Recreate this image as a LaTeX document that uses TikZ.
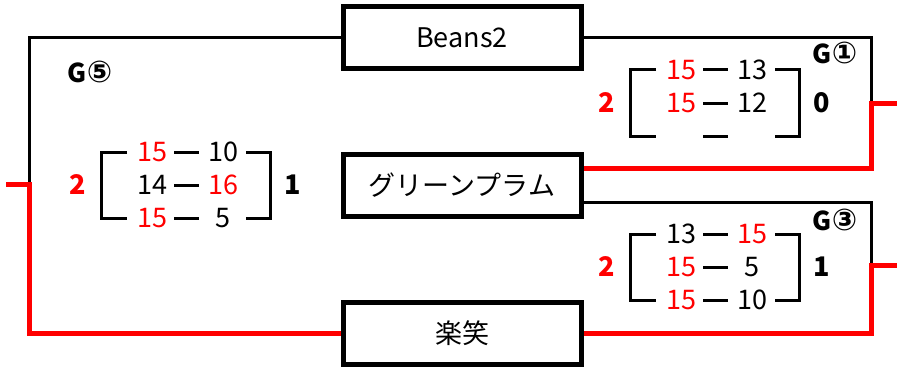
\documentclass[tikz,border=0pt]{standalone}
\usepackage{fontspec}
\setmainfont{Noto Sans CJK JP}
\newfontfamily\circfont{DejaVu Sans}
\usetikzlibrary{calc}
\usetikzlibrary{positioning}
\usepackage{xcolor}

\tikzset{
 team/.style={draw, line width=5pt, minimum width=238pt, minimum height=62pt, inner sep=0pt},
 lose/.style={black, line width=3pt},
 win/.style={red, line width=5pt},
 brk/.style={black, line width=3pt},
 gname/.style={font=\fontsize{26}{28}\selectfont\bfseries, inner sep=0pt},
 total/.style={font=\fontsize{27}{30}\selectfont\bfseries}
}
\newcommand{\circnum}[1]{{\circfont\fontsize{30}{32}\selectfont #1}}

\begin{document}
\begin{tikzpicture}[x=1pt, y=-1pt, font=\fontsize{27}{30}\selectfont]
\useasboundingbox (0,0) rectangle (897,369);
% teams
\node[team] (beans) at (462,38) {Beans2};
\node[team] (green) at (462,185) {グリーンプラム};
\node[team] (raku) at (462,333) {楽笑};
% bracket lines
\coordinate (g5) at (29,184);
\coordinate (g1) at (871,103);
\coordinate (g3) at (871,265);
\coordinate (out5) at (6,184);
\coordinate (out1) at (897,103);
\coordinate (out3) at (897,265);
\draw[lose] (beans.west) -| (g5);
\draw[win] (out5) -- (g5) |- (raku.west);
\draw[lose] (beans.east) -| (g1);
\draw[win] (out1) -- (g1) |- ([yshift=17pt]green.east);
\draw[lose] ([yshift=-17pt]green.east) -| (g3);
\draw[win] (out3) -- (g3) |- (raku.east);
% score brackets
\foreach \x/\y in {101/152, 630/70, 630/234} {
 \draw[brk] (\x+26,\y) -- (\x,\y) -- (\x,\y+66) -- (\x+26,\y+66);
 \draw[brk] (\x+145,\y) -- (\x+169,\y) -- (\x+169,\y+66) -- (\x+145,\y+66);
 \draw[brk] (\x+73,\y+33) -- (\x+98,\y+33);
 \draw[brk] (\x+73,\y+66) -- (\x+98,\y+66);
 \draw[brk] (\x+73,\y) -- (\x+98,\y);
}
\foreach \x/\y/\a/\b/\ca/\cb in {101/152/15/10/red/black, 101/185/14/16/black/red, 101/218/15/5/red/black,
  630/70/15/13/red/black, 630/103/15/12/red/black,
  630/234/13/15/black/red, 630/267/15/5/red/black, 630/300/15/10/red/black} {
 \node[text=\ca] (a\x-\y) at (\x+51,\y) {\a};
 \node[text=\cb] (b\x-\y) at (\x+122,\y) {\b};
}
% set totals
\node[total, red] (w5) at (78,185) {2};
\node[total] (l5) at (293,185) {1};
\node[total, red] (w1) at (607,103) {2};
\node[total] (l1) at (822,103) {0};
\node[total, red] (w3) at (607,267) {2};
\node[total] (l3) at (822,267) {1};
% game names
\node[gname] (n5) at (90,72) {G\circnum{⑤}};
\node[gname] (n1) at (835,53) {G\circnum{①}};
\node[gname] (n3) at (835,220) {G\circnum{③}};
\end{tikzpicture}
\end{document}
